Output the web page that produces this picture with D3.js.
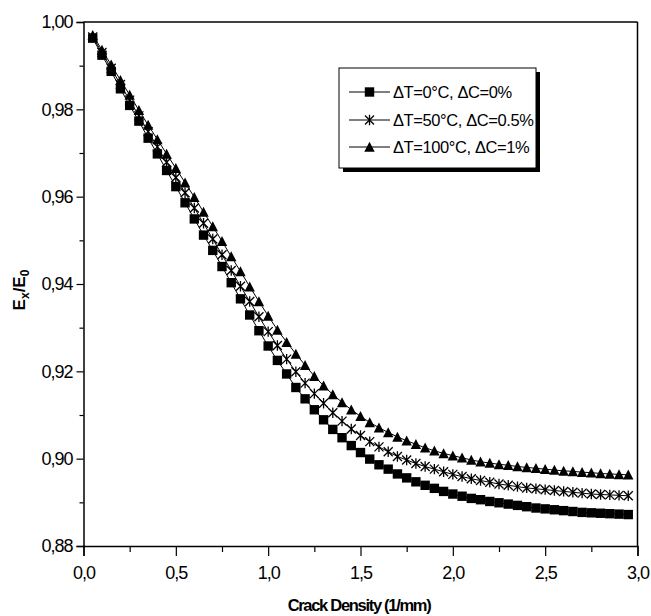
<!DOCTYPE html>
<html>
<head>
<meta charset="utf-8">
<script src="https://cdn.jsdelivr.net/npm/d3@7"></script>
<style>
  body { margin: 0; background: #fff; }
  text { font-family: "Liberation Sans", Arial, sans-serif; fill: #000; }
</style>
</head>
<body>
<svg id="chart"></svg>
<script>
// crack density (1/mm)
const crackDensity = [0.05, 0.10, 0.15, 0.20, 0.25, 0.30, 0.35, 0.40, 0.45, 0.50,
  0.55, 0.60, 0.65, 0.70, 0.75, 0.80, 0.85, 0.90, 0.95, 1.00,
  1.05, 1.10, 1.15, 1.20, 1.25, 1.30, 1.35, 1.40, 1.45, 1.50,
  1.55, 1.60, 1.65, 1.70, 1.75, 1.80, 1.85, 1.90, 1.95, 2.00,
  2.05, 2.10, 2.15, 2.20, 2.25, 2.30, 2.35, 2.40, 2.45, 2.50,
  2.55, 2.60, 2.65, 2.70, 2.75, 2.80, 2.85, 2.90, 2.95];

// Ex/E0, dT=0C dC=0%
const seriesT0 = [0.9963, 0.9924, 0.9887, 0.9847, 0.9809, 0.9773, 0.9734, 0.9698, 0.9660, 0.9623,
  0.9586, 0.9549, 0.9512, 0.9477, 0.9440, 0.9403, 0.9366, 0.9329, 0.9293, 0.9258,
  0.9225, 0.9194, 0.9163, 0.9137, 0.9112, 0.9089, 0.9067, 0.9048, 0.9030, 0.9014,
  0.8999, 0.8986, 0.8976, 0.8965, 0.8956, 0.8947, 0.8939, 0.8932, 0.8925, 0.8919,
  0.8914, 0.8909, 0.8906, 0.8902, 0.8899, 0.8896, 0.8893, 0.8890, 0.8887, 0.8885,
  0.8883, 0.8881, 0.8879, 0.8877, 0.8876, 0.8875, 0.8874, 0.8873, 0.8872];

// dT=50C dC=0.5%
const seriesT50 = [0.9966, 0.9930, 0.9894, 0.9857, 0.9821, 0.9785, 0.9749, 0.9714, 0.9679, 0.9644,
  0.9609, 0.9574, 0.9539, 0.9503, 0.9467, 0.9431, 0.9395, 0.9360, 0.9325, 0.9291,
  0.9259, 0.9228, 0.9199, 0.9173, 0.9149, 0.9127, 0.9105, 0.9086, 0.9068, 0.9053,
  0.9039, 0.9027, 0.9016, 0.9005, 0.8997, 0.8989, 0.8982, 0.8976, 0.8970, 0.8964,
  0.8959, 0.8954, 0.8950, 0.8946, 0.8942, 0.8939, 0.8936, 0.8933, 0.8931, 0.8929,
  0.8927, 0.8925, 0.8923, 0.8921, 0.8919, 0.8918, 0.8917, 0.8916, 0.8915];

// dT=100C dC=1%
const seriesT100 = [0.9970, 0.9936, 0.9902, 0.9867, 0.9833, 0.9798, 0.9764, 0.9731, 0.9698, 0.9665,
  0.9632, 0.9599, 0.9565, 0.9532, 0.9498, 0.9463, 0.9429, 0.9394, 0.9360, 0.9327,
  0.9295, 0.9267, 0.9240, 0.9214, 0.9189, 0.9167, 0.9147, 0.9129, 0.9112, 0.9097,
  0.9083, 0.9071, 0.9060, 0.9050, 0.9041, 0.9033, 0.9025, 0.9018, 0.9012, 0.9007,
  0.9002, 0.8997, 0.8993, 0.8990, 0.8987, 0.8985, 0.8982, 0.8980, 0.8978, 0.8976,
  0.8974, 0.8972, 0.8971, 0.8969, 0.8968, 0.8966, 0.8965, 0.8964, 0.8963];

const legendLabels = ['\u0394T=0\u00b0C, \u0394C=0%', '\u0394T=50\u00b0C, \u0394C=0.5%', '\u0394T=100\u00b0C, \u0394C=1%'];
const xMajorTicks = [0, 0.5, 1.0, 1.5, 2.0, 2.5, 3.0];
const xMinorTicks = [0.25, 0.75, 1.25, 1.75, 2.25, 2.75];
const yMajorTicks = [0.88, 0.90, 0.92, 0.94, 0.96, 0.98, 1.00];
const yMinorTicks = [0.89, 0.91, 0.93, 0.95, 0.97, 0.99];

const width = 651, height = 616;
const plot = { left: 83.5, right: 637.5, top: 22, bottom: 546 };

const locale = d3.formatLocale({ decimal: ',', thousands: '.', grouping: [3], currency: ['', ''] });

const svg = d3.select('#chart').attr('width', width).attr('height', height);

const x = d3.scaleLinear().domain([0, 3]).range([plot.left, plot.right]);
const y = d3.scaleLinear().domain([0.88, 1.00]).range([plot.bottom, plot.top]);

// symbol paths (centered on the data point)
const symSquare = 'M-4.7,-4.7H4.7V4.7H-4.7Z';
const symTriangle = 'M0,-5.2L5.2,4.8H-5.2Z';
const symStar = 'M0,-5.2V5.2M-4.5,-4.5L4.5,4.5M-4.5,4.5L4.5,-4.5';

const series = [
  { name: legendLabels[0], values: seriesT0, sym: symSquare, fill: '#000', stroke: 'none' },
  { name: legendLabels[1], values: seriesT50, sym: symStar, fill: 'none', stroke: '#000' },
  { name: legendLabels[2], values: seriesT100, sym: symTriangle, fill: '#000', stroke: 'none' }
];

const line = d3.line().x(d => x(d[0])).y(d => y(d[1]));

series.forEach(s => {
  const pts = crackDensity.map((c, i) => [c, s.values[i]]);
  svg.append('path')
    .attr('d', line(pts))
    .attr('fill', 'none')
    .attr('stroke', '#000')
    .attr('stroke-width', 1);
  svg.append('g').selectAll('path')
    .data(pts)
    .enter().append('path')
    .attr('transform', d => 'translate(' + x(d[0]) + ',' + y(d[1]) + ')')
    .attr('d', s.sym)
    .attr('fill', s.fill)
    .attr('stroke', s.stroke)
    .attr('stroke-width', 1.3);
});

// frame
svg.append('line').attr('x1', plot.left).attr('x2', plot.right).attr('y1', plot.top).attr('y2', plot.top)
  .attr('stroke', '#000').attr('stroke-width', 1.5);
svg.append('line').attr('x1', plot.right).attr('x2', plot.right).attr('y1', plot.top).attr('y2', plot.bottom)
  .attr('stroke', '#000').attr('stroke-width', 1.5);

// axes
const fmtX = locale.format('.1f');
const fmtY = locale.format('.2f');

const gx = svg.append('g').attr('transform', 'translate(0,' + plot.bottom + ')')
  .call(d3.axisBottom(x).tickValues(xMajorTicks).tickSize(10).tickPadding(10).tickFormat(fmtX));
const gxm = svg.append('g').attr('transform', 'translate(0,' + plot.bottom + ')')
  .call(d3.axisBottom(x).tickValues(xMinorTicks).tickSize(6).tickFormat(''));
const gy = svg.append('g').attr('transform', 'translate(' + plot.left + ',0)')
  .call(d3.axisLeft(y).tickValues(yMajorTicks).tickSize(7).tickPadding(4).tickFormat(fmtY));
const gym = svg.append('g').attr('transform', 'translate(' + plot.left + ',0)')
  .call(d3.axisLeft(y).tickValues(yMinorTicks).tickSize(4).tickFormat(''));

[gx, gxm, gy, gym].forEach(g => {
  g.select('.domain').attr('stroke', '#000').attr('stroke-width', 1.5);
  g.selectAll('.tick line').attr('stroke', '#000').attr('stroke-width', 1.2);
  g.selectAll('.tick text')
    .style('font-family', '"Liberation Sans", Arial, sans-serif')
    .style('font-size', '18px')
    .style('letter-spacing', '-1px')
    .attr('fill', '#000');
});
gxm.select('.domain').remove();
gym.select('.domain').remove();

// axis titles
svg.append('text')
  .attr('x', 359)
  .attr('y', 611)
  .attr('text-anchor', 'middle')
  .style('font-size', '16.5px')
  .style('font-weight', 'bold')
  .style('letter-spacing', '-1.3px')
  .text('Crack Density (1/mm)');

const yTitle = svg.append('text')
  .attr('transform', 'translate(25,290) rotate(-90)')
  .attr('text-anchor', 'middle')
  .style('font-size', '17px')
  .style('font-weight', 'bold');
yTitle.append('tspan').text('E');
yTitle.append('tspan').attr('dy', 4).style('font-size', '12px').text('x');
yTitle.append('tspan').attr('dy', -4).text('/E');
yTitle.append('tspan').attr('dy', 4).style('font-size', '12px').text('0');

// legend
const legend = svg.append('g');
legend.append('rect').attr('x', 343).attr('y', 72).attr('width', 197).attr('height', 100).attr('fill', '#000');
legend.append('rect').attr('x', 339).attr('y', 68).attr('width', 197).attr('height', 100)
  .attr('fill', '#fff').attr('stroke', '#000').attr('stroke-width', 1);

const rowY = [92, 120, 147];
series.forEach((s, i) => {
  const row = legend.append('g').attr('transform', 'translate(0,' + rowY[i] + ')');
  row.append('line').attr('x1', 349).attr('x2', 390).attr('y1', 0).attr('y2', 0)
    .attr('stroke', '#000').attr('stroke-width', 1);
  row.append('path').attr('transform', 'translate(369.5,0)').attr('d', s.sym)
    .attr('fill', s.fill).attr('stroke', s.stroke).attr('stroke-width', 1.3);
  row.append('text').attr('x', 393).attr('y', 6)
    .style('font-size', '16.5px')
    .style('letter-spacing', '-0.4px')
    .text(s.name);
});
</script>
</body>
</html>
